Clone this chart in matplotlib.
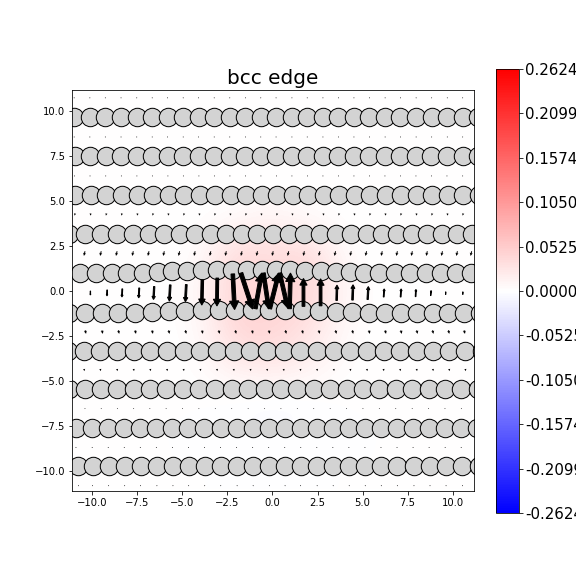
import numpy as np
import matplotlib
matplotlib.use("Agg")
import matplotlib.pyplot as plt

# ---------------- data ----------------
title = "bcc edge"
vmin, vmax = -0.2624, 0.2624
cbar_ticks = [-0.2624, -0.2099, -0.1574, -0.1050, -0.0525, 0.0,
              0.0525, 0.1050, 0.1574, 0.2099, 0.2624]

row_y = [9.67, 7.50, 5.33, 3.17, 1.00, -1.22, -3.33, -5.44, -7.61, -9.72]

row1_x = [-11.00, -10.13, -9.27, -8.40, -7.53, -6.67, -5.82, -4.95, -4.10, -3.23, -2.37, -1.50, -0.65,
          0.20, 1.08, 1.93, 2.80, 3.66, 4.52, 5.38, 6.25, 7.10, 7.97, 8.83, 9.70, 10.55, 11.42]
row2_x = [-10.98, -10.12, -9.25, -8.38, -7.52, -6.66, -5.80, -4.94, -4.08, -3.22, -2.36, -1.50, -0.64,
          0.22, 1.08, 1.94, 2.80, 3.66, 4.52, 5.38, 6.24, 7.10, 7.96, 8.82, 9.68, 10.55, 11.41]
row3_x = [-10.95, -10.08, -9.21, -8.35, -7.48, -6.62, -5.76, -4.90, -4.04, -3.18, -2.32, -1.46, -0.60,
          0.26, 1.12, 1.98, 2.84, 3.70, 4.56, 5.42, 6.28, 7.14, 8.00, 8.86, 9.72, 10.58, 11.44]
row4_x = [-11.30, -10.40, -9.50, -8.62, -7.72, -6.85, -6.00, -5.15, -4.29, -3.42, -2.56, -1.69, -0.83,
          0.04, 0.90, 1.77, 2.63, 3.50, 4.37, 5.22, 6.09, 6.93, 7.76, 8.59, 9.43, 10.26, 11.05]
row5_x = [-10.67, -9.78, -8.92, -8.05, -7.20, -6.37, -5.55, -4.73, -3.90, -3.07, -2.24, -1.41, -0.57,
          0.22, 1.00, 1.83, 2.67, 3.50, 4.30, 5.10, 5.92, 6.78, 7.65, 8.50, 9.33, 10.18, 11.02]
row6_x = [-11.30, -10.39, -9.46, -8.55, -7.62, -6.68, -5.76, -4.83, -3.91, -2.98, -2.06, -1.13, -0.20,
          0.72, 1.65, 2.57, 3.50, 4.43, 5.35, 6.25, 7.12, 8.00, 8.88, 9.76, 10.63, 11.50]
row7_x = [-11.35, -10.45, -9.55, -8.62, -7.70, -6.78, -5.85, -4.93, -4.00, -3.08, -2.15, -1.22, -0.30,
          0.62, 1.55, 2.47, 3.40, 4.32, 5.24, 6.16, 7.08, 8.00, 8.90, 9.80, 10.70, 11.60]
row8_x = [-11.30, -10.40, -9.50, -8.60, -7.70, -6.80, -5.90, -4.99, -4.08, -3.17, -2.26, -1.35, -0.44,
          0.47, 1.38, 2.29, 3.20, 4.11, 5.02, 5.93, 6.84, 7.75, 8.66, 9.57, 10.48, 11.39]
row9_x = [-10.90, -10.00, -9.11, -8.22, -7.33, -6.44, -5.55, -4.66, -3.77, -2.88, -1.99, -1.10, -0.21,
          0.68, 1.57, 2.46, 3.35, 4.24, 5.13, 6.02, 6.91, 7.80, 8.69, 9.58, 10.47, 11.36]
row10_x = [-10.76, -9.98, -9.09, -8.20, -7.32, -6.41, -5.52, -4.65, -3.76, -2.87, -1.96, -1.07, -0.17,
           0.70, 1.56, 2.48, 3.37, 4.26, 5.15, 6.04, 6.93, 7.85, 8.74, 9.63, 10.54, 11.43]
rows_x = [row1_x, row2_x, row3_x, row4_x, row5_x, row6_x, row7_x, row8_x, row9_x, row10_x]

# the two rows bounding the slip plane bulge towards each other near the core
row5_y = [1.00, 1.00, 1.00, 1.00, 1.02, 1.05, 1.10, 1.13, 1.16, 1.18, 1.18, 1.18, 1.17,
          1.17, 1.16, 1.14, 1.11, 1.07, 1.04, 1.02, 1.00, 1.00, 1.00, 1.00, 1.00, 1.00, 1.00]
row6_y = [-1.22, -1.22, -1.22, -1.22, -1.20, -1.17, -1.13, -1.10, -1.07, -1.05, -1.05, -1.05, -1.05,
          -1.06, -1.08, -1.11, -1.14, -1.17, -1.20, -1.22, -1.22, -1.22, -1.22, -1.22, -1.22, -1.22]

# differential-displacement arrows in the slip gap (tail x, tail y, dx, dy)
core_x = [-10.10, -9.17, -8.33, -7.39, -6.56, -5.67, -4.78, -3.89, -3.06,
          1.72, 2.67, 3.56, 4.44, 5.28, 6.17, 7.11, 7.94, 8.78, 9.61, 10.56]
core_y = [0.00, 0.06, 0.12, 0.17, 0.25, 0.34, 0.36, 0.62, 0.72,
          -0.85, -0.82, -0.52, -0.50, -0.47, -0.33, -0.33, -0.31, -0.25, -0.19, -0.19]
core_dx = [0.0, -0.01, -0.02, -0.03, -0.04, -0.05, -0.05, -0.03, -0.02,
           0.0, 0.0, 0.02, 0.03, 0.04, 0.03, 0.03, 0.02, 0.02, 0.0, 0.0]
core_dy = [-0.22, -0.33, -0.45, -0.55, -0.72, -0.90, -0.95, -1.40, -1.55,
           1.55, 1.50, 0.85, 0.85, 0.72, 0.45, 0.45, 0.40, 0.28, 0.15, 0.15]

# zig-zag arrows right at the core
zig_x = [-2.20, -1.75, -0.95, -0.50, -0.15, 0.40, 0.95]
zig_y = [0.95, 1.00, -0.98, 1.00, -0.98, 1.00, -0.98]
zig_dx = [0.10, 0.65, 0.35, 0.30, 0.50, 0.45, 0.05]
zig_dy = [-1.98, -2.00, 1.98, -2.00, 1.98, -1.95, 1.98]

# faint arrows in the other gaps (gap centre y, small dx, dy per gap)
gap_y = [10.75, 8.58, 6.42, 4.25, 2.08, -2.28, -4.39, -6.53, -8.67, -10.80]
gap_dx = [0.0, 0.0, 0.0, -0.03, -0.06, 0.05, 0.02, 0.0, 0.0, 0.0]
gap_dy = [0.03, 0.04, 0.05, -0.12, -0.26, -0.20, -0.12, -0.06, 0.04, 0.03]

field_x = [-10, -8, -6, -4, -2, 0, 2, 4, 6, 8, 10]
field_y = [10, 8, 6, 4, 2, 0, -2, -4, -6, -8, -10]
field = [
    [0, 0, 0, 0, 0, 0, 0, 0, 0, 0, 0],
    [0, 0, 0, 0, 0, 0, 0, 0, 0, 0, 0],
    [0, 0, 0, 0, 0, 0, 0, 0, 0, 0, 0],
    [0, 0, 0, 0, 0.004, 0.012, 0.004, 0, 0, 0, 0],
    [0, 0, 0, 0.004, 0.04, 0.035, 0.04, 0.004, 0, 0, 0],
    [0, 0, 0, 0.008, 0.045, 0.04, 0.045, 0.008, 0, 0, 0],
    [0, 0, 0, 0.005, 0.045, 0.045, 0.03, 0.005, 0, 0, 0],
    [0, 0, 0, 0.002, 0.02, 0.025, 0.015, 0.002, 0, 0, 0],
    [0, 0, 0, 0, -0.003, -0.005, -0.003, 0, 0, 0, 0],
    [0, 0, 0, 0, 0, -0.003, 0, 0, 0, 0, 0],
    [0, 0, 0, 0, 0, 0, 0, 0, 0, 0, 0],
]

# ---------------- plot ----------------
fig = plt.figure(figsize=(8, 8), dpi=72)
ax = fig.add_axes([72 / 576, 85 / 576, 402 / 576, 401 / 576])
cax = fig.add_axes([496 / 576, 63 / 576, 22.5 / 576, 444 / 576])

dxg = field_x[1] - field_x[0]
dyg = field_y[0] - field_y[1]
im = ax.imshow(np.array(field), cmap="bwr", vmin=vmin, vmax=vmax,
               extent=[field_x[0] - dxg / 2, field_x[-1] + dxg / 2,
                       field_y[-1] - dyg / 2, field_y[0] + dyg / 2],
               interpolation="bicubic", origin="upper", aspect="auto", zorder=0)

for i, (y, xs) in enumerate(zip(row_y, rows_x)):
    if i == 4:
        ys = row5_y
    elif i == 5:
        ys = row6_y
    else:
        ys = [y] * len(xs)
    ax.scatter(xs, ys, s=340, c="lightgray", edgecolors="black",
               linewidths=1.0, zorder=2)

# faint gap arrows, at the atom columns of the row above
gap_cols = [row1_x, row1_x, row2_x, row3_x, row4_x, row6_x, row7_x, row8_x, row9_x, row10_x]
for gy, gdx, gdy, cols in zip(gap_y, gap_dx, gap_dy, gap_cols):
    n = len(cols)
    ax.quiver(cols, [gy - gdy / 2] * n, [gdx] * n, [gdy] * n, angles="xy",
              scale_units="xy", scale=1, width=0.0025, headwidth=3, headlength=3,
              headaxislength=2.7, color="black", zorder=3)

for x, y, ddx, ddy in zip(core_x + zig_x, core_y + zig_y, core_dx + zig_dx, core_dy + zig_dy):
    L = np.hypot(ddx, ddy)
    ax.arrow(x, y, ddx, ddy, width=0.10 * L, head_width=0.26 * L,
             head_length=0.24 * L, length_includes_head=True,
             color="black", zorder=4)

ax.set_xlim(-11.12, 11.18)
ax.set_ylim(-11.11, 11.17)
ax.set_title(title, fontsize=20)

cb = fig.colorbar(im, cax=cax, ticks=cbar_ticks, format="%.4f")
cb.ax.tick_params(labelsize=15)

fig.savefig("out.png", dpi=72)
